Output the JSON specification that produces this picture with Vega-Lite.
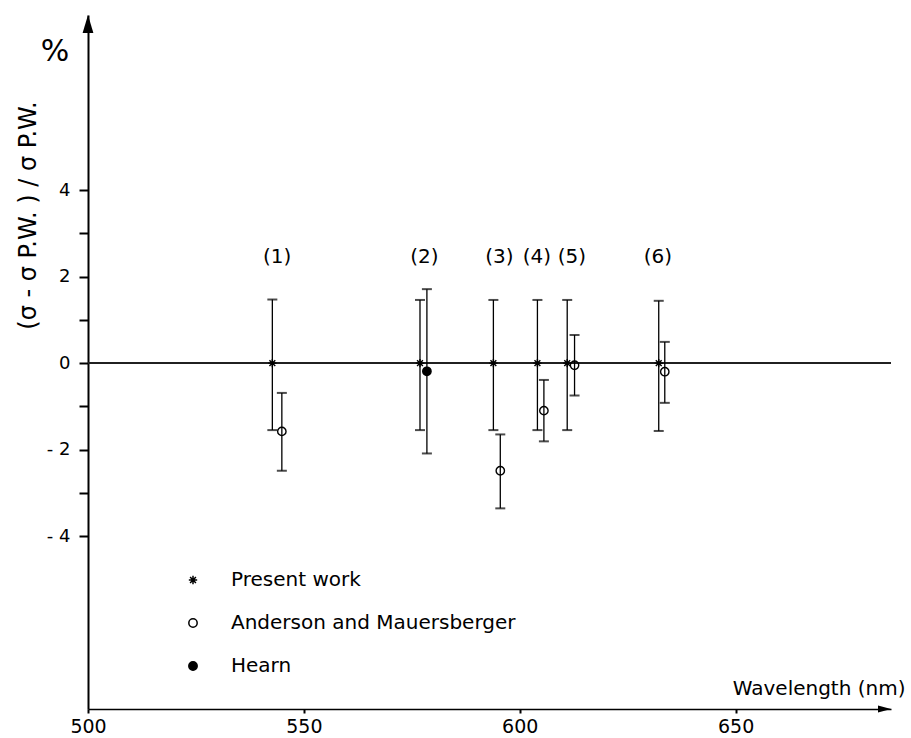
{
  "$schema": "https://vega.github.io/schema/vega-lite/v6.json",
  "width": 803,
  "height": 694,
  "autosize": "none",
  "padding": {"left": 88, "top": 15, "right": 20, "bottom": 29},
  "background": "white",
  "title": {"text": "%", "orient": "top", "anchor": "start", "frame": "group", "align": "center", "baseline": "middle", "dx": -33, "dy": 71, "fontSize": 30, "fontWeight": "normal", "font": "DejaVu Sans", "color": "black"},
  "config": {
    "view": {"stroke": null},
    "font": "DejaVu Sans",
    "axis": {"grid": false, "domainColor": "black", "tickColor": "black", "labelColor": "black", "titleColor": "black", "labelFont": "DejaVu Sans", "titleFont": "DejaVu Sans", "titleFontWeight": "normal", "labelFlush": false, "labelOverlap": false},
    "legend": {"orient": "none", "legendX": 95, "legendY": 555, "padding": 0, "labelFontSize": 20, "labelFont": "DejaVu Sans", "labelColor": "black", "labelOffset": 28, "rowPadding": 23, "symbolSize": 70, "symbolStrokeColor": "black", "symbolStrokeWidth": 1.5, "labelLimit": 400}
  },
  "datasets": {
    "points": [
      {"source": "Present work", "wavelength": 542.7, "value": 0, "lo": -1.55, "hi": 1.47},
      {"source": "Present work", "wavelength": 576.9, "value": 0, "lo": -1.55, "hi": 1.46},
      {"source": "Present work", "wavelength": 593.9, "value": 0, "lo": -1.55, "hi": 1.46},
      {"source": "Present work", "wavelength": 604.1, "value": 0, "lo": -1.55, "hi": 1.46},
      {"source": "Present work", "wavelength": 611.0, "value": 0, "lo": -1.55, "hi": 1.46},
      {"source": "Present work", "wavelength": 632.2, "value": 0, "lo": -1.57, "hi": 1.44},
      {"source": "Anderson and Mauersberger", "wavelength": 544.9, "value": -1.58, "lo": -2.49, "hi": -0.69},
      {"source": "Anderson and Mauersberger", "wavelength": 595.5, "value": -2.49, "lo": -3.36, "hi": -1.65},
      {"source": "Anderson and Mauersberger", "wavelength": 605.6, "value": -1.10, "lo": -1.81, "hi": -0.39},
      {"source": "Anderson and Mauersberger", "wavelength": 612.7, "value": -0.05, "lo": -0.75, "hi": 0.65},
      {"source": "Anderson and Mauersberger", "wavelength": 633.6, "value": -0.20, "lo": -0.92, "hi": 0.49},
      {"source": "Hearn", "wavelength": 578.5, "value": -0.19, "lo": -2.09, "hi": 1.71}
    ],
    "groups": [
      {"label": "(1)", "wavelength": 543.8},
      {"label": "(2)", "wavelength": 577.9},
      {"label": "(3)", "wavelength": 595.3},
      {"label": "(4)", "wavelength": 604.0},
      {"label": "(5)", "wavelength": 612.1},
      {"label": "(6)", "wavelength": 632.0}
    ]
  },
  "data": {"name": "points"},
  "layer": [
    {
      "mark": {"type": "rule", "color": "#222", "strokeWidth": 1},
      "encoding": {
        "y": {"datum": 0, "type": "quantitative", "scale": {"domain": [-8, 8.05], "nice": false, "zero": false},
          "axis": {"values": [-4, -3, -2, -1, 0, 1, 2, 3, 4], "labelExpr": "datum.value % 2 == 0 ? (datum.value < 0 ? '- ' + abs(datum.value) : datum.label) : ''", "labelFontSize": 18, "tickSize": 9, "tickWidth": 2, "domainWidth": 2, "labelPadding": 9, "title": "(σ - σ P.W. )  /  σ P.W.", "titleFontSize": 24, "titleAngle": 270, "titleX": -60, "titleY": 200, "titleAlign": "center", "titleBaseline": "middle",
            "encode": {"ticks": {"enter": {"x": {"value": 5}}, "update": {"x": {"value": 5}}}}}}
      }
    },
    {
      "mark": {"type": "rule", "color": "black", "strokeWidth": 1.3},
      "encoding": {
        "x": {"field": "wavelength", "type": "quantitative", "scale": {"domain": [500, 686], "nice": false, "zero": false},
          "axis": {"values": [500, 550, 600, 650], "labelFontSize": 19, "tickSize": 4, "tickWidth": 2, "domainWidth": 1.5, "labelPadding": 4, "title": "Wavelength  (nm)", "titleFontSize": 20, "titleX": 817, "titleY": -21, "titleAlign": "right", "titleBaseline": "middle",
            "encode": {"ticks": {"enter": {"y": {"value": -5}}, "update": {"y": {"value": -5}}}}}},
        "y": {"field": "lo", "type": "quantitative"},
        "y2": {"field": "hi"}
      }
    },
    {
      "mark": {"type": "tick", "orient": "horizontal", "color": "black", "size": 10, "thickness": 2},
      "encoding": {
        "x": {"field": "wavelength", "type": "quantitative"},
        "y": {"field": "lo", "type": "quantitative"}
      }
    },
    {
      "mark": {"type": "tick", "orient": "horizontal", "color": "black", "size": 10, "thickness": 2},
      "encoding": {
        "x": {"field": "wavelength", "type": "quantitative"},
        "y": {"field": "hi", "type": "quantitative"}
      }
    },
    {
      "mark": {"type": "point", "strokeWidth": 1.4, "size": 70, "opacity": 1},
      "encoding": {
        "x": {"field": "wavelength", "type": "quantitative"},
        "y": {"field": "value", "type": "quantitative"},
        "shape": {"field": "source", "type": "nominal", "title": null, "scale": {"domain": ["Present work", "Anderson and Mauersberger", "Hearn"], "range": ["M-1,0L1,0M0,-1L0,1M-0.7,-0.7L0.7,0.7M-0.7,0.7L0.7,-0.7", "circle", "circle"]}},
        "fill": {"field": "source", "type": "nominal", "title": null, "scale": {"domain": ["Present work", "Anderson and Mauersberger", "Hearn"], "range": ["transparent", "transparent", "black"]}},
        "stroke": {"field": "source", "type": "nominal", "title": null, "scale": {"domain": ["Present work", "Anderson and Mauersberger", "Hearn"], "range": ["black", "black", "black"]}}
      }
    },
    {
      "data": {"name": "groups"},
      "mark": {"type": "text", "fontSize": 20, "font": "DejaVu Sans", "color": "black", "baseline": "middle", "align": "center"},
      "encoding": {
        "x": {"field": "wavelength", "type": "quantitative"},
        "y": {"datum": 2.45, "type": "quantitative"},
        "text": {"field": "label"}
      }
    },
    {
      "data": {"values": [{}]},
      "mark": {"type": "point", "shape": "M0,0L0.3,1L-0.3,1Z", "size": 1296, "filled": true, "color": "black", "opacity": 1},
      "encoding": {
        "x": {"datum": 500, "type": "quantitative"},
        "y": {"datum": 8.05, "type": "quantitative"}
      }
    },
    {
      "data": {"values": [{}]},
      "mark": {"type": "point", "shape": "M0,0L-1,-0.27L-1,0.27Z", "size": 676, "filled": true, "color": "black", "opacity": 1},
      "encoding": {
        "x": {"datum": 686, "type": "quantitative"},
        "y": {"datum": -8, "type": "quantitative"}
      }
    }
  ]
}
